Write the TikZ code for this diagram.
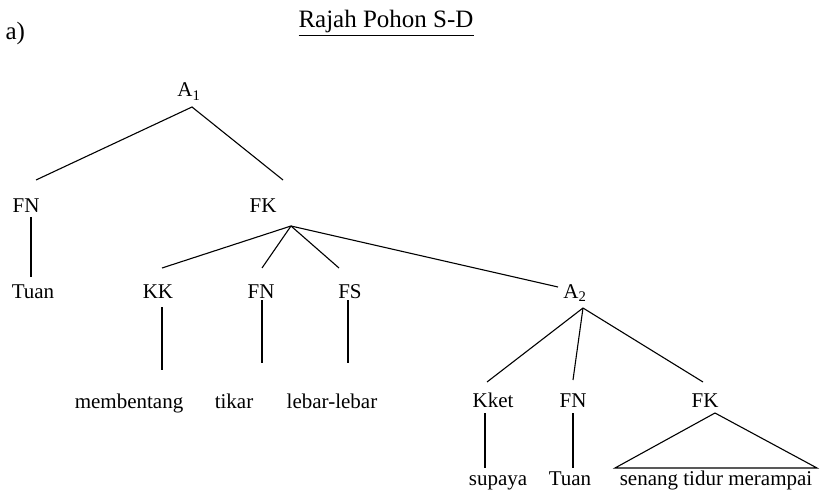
\documentclass[tikz,border=0pt]{standalone}
\usepackage{fontspec}
\setmainfont{Liberation Serif}
\usepackage{tikz}

\begin{document}
\begin{tikzpicture}[x=1pt,y=-1pt,line width=1.1pt,
  lbl/.style={anchor=base,inner sep=0pt,font=\fontsize{21}{21}\selectfont}]
\useasboundingbox (0,0) rectangle (820,500);

\node[anchor=base west,inner sep=0pt,font=\fontsize{25}{25}\selectfont] (tag) at (5,40) {a)};
\node[anchor=base,inner sep=0pt,font=\fontsize{25}{25}\selectfont] (title) at (386,28) {\underline{Rajah Pohon S-D}};

% atas
\node[lbl] (A1) at (189,97) {A\textsubscript{1}};
\node[lbl] (FN1) at (26,212) {FN};
\node[lbl] (FK1) at (263,212) {FK};
\coordinate (A1b) at (192,107);
\coordinate (FN1t) at (36,180);
\coordinate (FK1t) at (283,180);
\draw (FN1t) -- (A1b) -- (FK1t);

\node[lbl] (Tuan1) at (33,298) {Tuan};
\coordinate (FN1b) at (31,217);
\coordinate (Tuan1t) at (31,277);
\draw (FN1b) -- (Tuan1t);

% bawah FK
\node[lbl] (KK) at (158,298) {KK};
\node[lbl] (FN2) at (261,298) {FN};
\node[lbl] (FS) at (350,298) {FS};
\node[lbl] (A2) at (575,298) {A\textsubscript{2}};
\coordinate (FK1b) at (291,226);
\coordinate (KKt) at (162,268);
\coordinate (FN2t) at (262,268);
\coordinate (FSt) at (339,268);
\coordinate (A2t) at (558,287);
\draw (FK1b) -- (KKt);
\draw (FK1b) -- (FN2t);
\draw (FK1b) -- (FSt);
\draw (FK1b) -- (A2t);

\node[lbl] (membentang) at (129,408) {membentang};
\node[lbl] (tikar) at (234,408) {tikar};
\node[lbl] (lebar) at (332,408) {lebar-lebar};
\draw (162,307) coordinate (KKb) -- (162,370) coordinate (membentangt);
\draw (262,300) coordinate (FN2b) -- (262,363) coordinate (tikart);
\draw (348,300) coordinate (FSb) -- (348,363) coordinate (lebart);

% bawah A2
\node[lbl] (Kket) at (493,407) {Kket};
\node[lbl] (FN3) at (573,407) {FN};
\node[lbl] (FK2) at (705,407) {FK};
\coordinate (A2b) at (583,308);
\coordinate (Kkett) at (487,382);
\coordinate (FN3t) at (573,380);
\coordinate (FK2t) at (703,382);
\draw (A2b) -- (Kkett);
\draw (A2b) -- (FN3t);
\draw (A2b) -- (FK2t);

\node[lbl] (supaya) at (498,485) {supaya};
\node[lbl] (Tuan2) at (570,485) {Tuan};
\node[lbl] (senang) at (716,485) {senang tidur merampai};
\draw (485,413) coordinate (Kketb) -- (485,468) coordinate (supayat);
\draw (573,413) coordinate (FN3b) -- (573,468) coordinate (Tuan2t);
\coordinate (FK2b) at (715,413);
\coordinate (segiL) at (615,468);
\coordinate (segiR) at (817,468);
\draw (FK2b) -- (segiL) -- (segiR) -- cycle;

\end{tikzpicture}
\end{document}
